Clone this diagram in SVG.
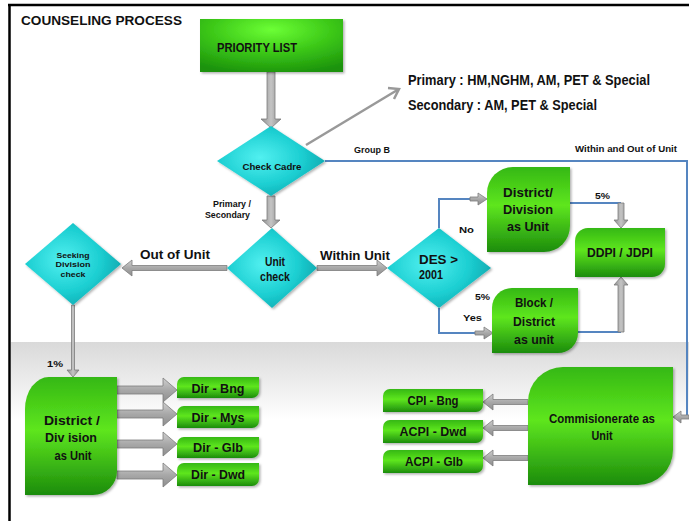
<svg xmlns="http://www.w3.org/2000/svg" width="689" height="521" viewBox="0 0 689 521">
<defs>
<linearGradient id="band" x1="0" y1="342" x2="0" y2="420" gradientUnits="userSpaceOnUse"><stop offset="0" stop-color="#d9d9d9"/><stop offset="1" stop-color="#ffffff"/></linearGradient>
<linearGradient id="grn" x1="0" y1="0" x2="0" y2="1"><stop offset="0" stop-color="#35b812"/><stop offset="0.45" stop-color="#5ee61f"/><stop offset="1" stop-color="#1c8c0c"/></linearGradient>
<radialGradient id="pri" cx="0.5" cy="0.2" r="0.85"><stop offset="0" stop-color="#6cff35"/><stop offset="0.5" stop-color="#3cc818"/><stop offset="1" stop-color="#1b920b"/></radialGradient>
<radialGradient id="cy" cx="0.4" cy="0.45" r="0.7"><stop offset="0" stop-color="#52f0f0"/><stop offset="0.55" stop-color="#1ccfd2"/><stop offset="1" stop-color="#0a9ea6"/></radialGradient>
<linearGradient id="gv" x1="0" y1="0" x2="0" y2="1"><stop offset="0" stop-color="#d0d0d0"/><stop offset="0.5" stop-color="#a8a8a8"/><stop offset="1" stop-color="#8e8e8e"/></linearGradient>
<linearGradient id="gh" x1="0" y1="0" x2="1" y2="0"><stop offset="0" stop-color="#8e8e8e"/><stop offset="0.5" stop-color="#c4c4c4"/><stop offset="1" stop-color="#8e8e8e"/></linearGradient>
<filter id="sh" x="-10%" y="-10%" width="125%" height="125%"><feDropShadow dx="1.5" dy="1.5" stdDeviation="1" flood-color="#000" flood-opacity="0.3"/></filter>
</defs>
<style>
text{font-family:"Liberation Sans",Arial,sans-serif;font-weight:bold;fill:#111}
.box{fill:url(#grn);filter:url(#sh)}
.dia{fill:url(#cy);filter:url(#sh)}
.blue{fill:none;stroke:#5585c0;stroke-width:2}
.ah{fill:url(#gv);stroke:#7c7c7c;stroke-width:0.8}
.av{fill:url(#gh);stroke:#7c7c7c;stroke-width:0.8}
.c{text-anchor:middle}
</style>
<rect x="0" y="0" width="689" height="521" fill="#fff"/>
<rect x="11" y="342" width="678" height="179" fill="url(#band)"/>
<path d="M8,5 H689 M9.5,5 V521" stroke="#000" stroke-width="2.5" fill="none"/>
<text x="21" y="25" font-size="13.5" textLength="161" lengthAdjust="spacingAndGlyphs">COUNSELING PROCESS</text>

<g id="connectors">
<polygon class="av" points="267,72 275,72 275,119 281,119 271,128 261,119 267,119"/>
<polygon class="av" points="267,196 275,196 275,220 280,220 271,228 262,220 267,220"/>
<path d="M306,145 L399,89 M388,88 L399,89 L394,99" fill="none" stroke="#999" stroke-width="2.5"/>
<polygon class="ah" points="227,265.5 227,270.5 132,270.5 132,276 122,268 132,260 132,265.5"/>
<polygon class="ah" points="317,265.5 317,270.5 377,270.5 377,276 387,268 377,260 377,265.5"/>
<polygon class="av" points="71.5,305 74.5,305 74.5,370 79,370 73,377 67,370 71.5,370"/>
<path class="blue" d="M325,161 H687 V417"/>
<polygon class="ah" points="689,415 681,415 681,411 673,417 681,423 681,419 689,419"/>
<path class="blue" d="M439,228 V199 H472"/>
<polygon class="ah" points="470,197 478,197 478,193 487,199 478,205 478,201 470,201"/>
<path class="blue" d="M439,308 V333 H477"/>
<polygon class="ah" points="475,331 484,331 484,327 493,333 484,339 484,335 475,335"/>
<path class="blue" d="M570,203 H621"/>
<polygon class="av" points="618,203 624,203 624,220 628,220 621,228 614,220 618,220"/>
<path class="blue" d="M578,332 H621"/>
<polygon class="av" points="618,332 624,332 624,285 628,285 621,277 614,285 618,285"/>
<polygon class="ah" points="117,386 163,386 163,378 177,390 163,402 163,394 117,394"/>
<polygon class="ah" points="117,410 163,410 163,402 177,414 163,426 163,418 117,418"/>
<polygon class="ah" points="117,440 163,440 163,432 177,444 163,456 163,448 117,448"/>
<polygon class="ah" points="117,471 163,471 163,463 177,475 163,487 163,479 117,479"/>
<polygon class="ah" points="528,399.5 493,399.5 493,394 483,402 493,410 493,404.5 528,404.5"/>
<polygon class="ah" points="528,425.5 493,425.5 493,420 483,428 493,436 493,430.5 528,430.5"/>
<polygon class="ah" points="528,455.5 493,455.5 493,450 483,458 493,466 493,460.5 528,460.5"/>
</g>

<g id="labels">
<text x="408" y="85" font-size="14" textLength="242" lengthAdjust="spacingAndGlyphs">Primary : HM,NGHM, AM, PET &amp; Special</text>
<text x="408" y="110" font-size="14" textLength="189" lengthAdjust="spacingAndGlyphs">Secondary : AM, PET &amp; Special</text>
<text x="354" y="153" font-size="9" textLength="36" lengthAdjust="spacingAndGlyphs">Group B</text>
<text x="575" y="152" font-size="9" textLength="102" lengthAdjust="spacingAndGlyphs">Within and Out of Unit</text>
<text x="213" y="207" font-size="8.5" textLength="38" lengthAdjust="spacingAndGlyphs">Primary /</text>
<text x="205" y="218" font-size="8.5" textLength="45" lengthAdjust="spacingAndGlyphs">Secondary</text>
<text x="140" y="259" font-size="13" textLength="70" lengthAdjust="spacingAndGlyphs">Out of Unit</text>
<text x="320" y="260" font-size="13" textLength="70" lengthAdjust="spacingAndGlyphs">Within Unit</text>
<text x="459" y="233" font-size="9.5" textLength="15" lengthAdjust="spacingAndGlyphs">No</text>
<text x="463" y="321" font-size="9.5" textLength="19" lengthAdjust="spacingAndGlyphs">Yes</text>
<text x="595" y="199" font-size="9" textLength="15" lengthAdjust="spacingAndGlyphs">5%</text>
<text x="475" y="300" font-size="9" textLength="15" lengthAdjust="spacingAndGlyphs">5%</text>
<text x="47" y="367" font-size="9" textLength="16" lengthAdjust="spacingAndGlyphs">1%</text>
</g>

<g id="priority-list">
<rect x="200" y="19" width="143" height="53" fill="url(#pri)" filter="url(#sh)"/>
<text x="217" y="52" font-size="12.5" textLength="80" lengthAdjust="spacingAndGlyphs" fill="#1a1a1a">PRIORITY LIST</text>
</g>

<g id="check-cadre">
<polygon class="dia" points="271,126 325,161 271,196 217,161"/>
<text class="c" x="272" y="170" font-size="9.5" textLength="59" lengthAdjust="spacingAndGlyphs">Check Cadre</text>
</g>

<g id="unit-check">
<polygon class="dia" points="272,228 317,268 272,308 227,268"/>
<text class="c" x="275" y="266" font-size="12.5" textLength="20" lengthAdjust="spacingAndGlyphs">Unit</text>
<text class="c" x="275" y="281" font-size="12.5" textLength="30" lengthAdjust="spacingAndGlyphs">check</text>
</g>

<g id="seeking-division-check">
<polygon class="dia" points="73,223 121,264 73,305 25,264"/>
<text class="c" x="73" y="258" font-size="7.5" textLength="33" lengthAdjust="spacingAndGlyphs">Seeking</text>
<text class="c" x="73" y="267" font-size="7.5" textLength="35" lengthAdjust="spacingAndGlyphs">Division</text>
<text class="c" x="73" y="277" font-size="7.5" textLength="25" lengthAdjust="spacingAndGlyphs">check</text>
</g>

<g id="des-2001">
<polygon class="dia" points="439,228 491,268 439,308 387,268"/>
<text x="419" y="264" font-size="12" textLength="39" lengthAdjust="spacingAndGlyphs">DES  &gt;</text>
<text x="419" y="279" font-size="12" textLength="24" lengthAdjust="spacingAndGlyphs">2001</text>
</g>

<g id="district-division-unit-upper">
<path class="box" d="M513,167 H570 V226 A26,26 0 0 1 544,252 H487 V193 A26,26 0 0 1 513,167 Z"/>
<text class="c" x="528" y="197" font-size="13" textLength="50" lengthAdjust="spacingAndGlyphs">District/</text>
<text class="c" x="528" y="214" font-size="13" textLength="50" lengthAdjust="spacingAndGlyphs">Division</text>
<text class="c" x="528" y="231" font-size="13" textLength="42" lengthAdjust="spacingAndGlyphs">as Unit</text>
</g>

<g id="block-district-unit">
<path class="box" d="M512,288 H578 V333 A20,20 0 0 1 558,353 H492 V308 A20,20 0 0 1 512,288 Z"/>
<text class="c" x="534" y="307" font-size="12.5" textLength="38" lengthAdjust="spacingAndGlyphs">Block /</text>
<text class="c" x="534" y="326" font-size="12.5" textLength="42" lengthAdjust="spacingAndGlyphs">District</text>
<text class="c" x="534" y="344" font-size="12.5" textLength="40" lengthAdjust="spacingAndGlyphs">as unit</text>
</g>

<g id="ddpi-jdpi">
<path class="box" d="M588,228 H665 V264 A13,13 0 0 1 652,277 H575 V241 A13,13 0 0 1 588,228 Z"/>
<text class="c" x="620" y="257" font-size="12" textLength="66" lengthAdjust="spacingAndGlyphs">DDPI / JDPI</text>
</g>

<g id="district-division-unit-lower">
<path class="box" d="M49,377 H117 V471 A24,24 0 0 1 93,495 H25 V409 A24,32 0 0 1 49,377 Z"/>
<text class="c" x="72" y="425" font-size="13" textLength="56" lengthAdjust="spacingAndGlyphs">District /</text>
<text class="c" x="71" y="442" font-size="13" textLength="52" lengthAdjust="spacingAndGlyphs">Div ision</text>
<text class="c" x="73" y="460" font-size="13" textLength="37" lengthAdjust="spacingAndGlyphs">as Unit</text>
</g>

<g id="dir-bng">
<path class="box" d="M184,377 H259 V391 A7,7 0 0 1 252,398 H177 V384 A7,7 0 0 1 184,377 Z"/>
<text class="c" x="218" y="393" font-size="12" textLength="53" lengthAdjust="spacingAndGlyphs">Dir - Bng</text>
</g>
<g id="dir-mys">
<path class="box" d="M184,406 H259 V421 A7,7 0 0 1 252,428 H177 V413 A7,7 0 0 1 184,406 Z"/>
<text class="c" x="218" y="422" font-size="12" textLength="53" lengthAdjust="spacingAndGlyphs">Dir - Mys</text>
</g>
<g id="dir-glb">
<path class="box" d="M184,437 H259 V451 A7,7 0 0 1 252,458 H177 V444 A7,7 0 0 1 184,437 Z"/>
<text class="c" x="218" y="452" font-size="12" textLength="50" lengthAdjust="spacingAndGlyphs">Dir - Glb</text>
</g>
<g id="dir-dwd">
<path class="box" d="M184,463 H259 V479 A7,7 0 0 1 252,486 H177 V470 A7,7 0 0 1 184,463 Z"/>
<text class="c" x="218" y="479" font-size="12" textLength="54" lengthAdjust="spacingAndGlyphs">Dir - Dwd</text>
</g>

<g id="commisionerate">
<path class="box" d="M563,367 H673 V450 A35,35 0 0 1 638,485 H528 V402 A35,35 0 0 1 563,367 Z"/>
<text class="c" x="602" y="423" font-size="12.5" textLength="106" lengthAdjust="spacingAndGlyphs">Commisionerate  as</text>
<text class="c" x="602" y="440" font-size="12.5" textLength="21" lengthAdjust="spacingAndGlyphs">Unit</text>
</g>

<g id="cpi-bng">
<path class="box" d="M390,389 H483 V405 A7,7 0 0 1 476,412 H383 V396 A7,7 0 0 1 390,389 Z"/>
<text class="c" x="433" y="405" font-size="12" textLength="51" lengthAdjust="spacingAndGlyphs">CPI - Bng</text>
</g>
<g id="acpi-dwd">
<path class="box" d="M390,420 H483 V436 A7,7 0 0 1 476,443 H383 V427 A7,7 0 0 1 390,420 Z"/>
<text class="c" x="433" y="436" font-size="12" textLength="67" lengthAdjust="spacingAndGlyphs">ACPI - Dwd</text>
</g>
<g id="acpi-glb">
<path class="box" d="M390,450 H483 V466 A7,7 0 0 1 476,473 H383 V457 A7,7 0 0 1 390,450 Z"/>
<text class="c" x="434" y="466" font-size="12" textLength="58" lengthAdjust="spacingAndGlyphs">ACPI - Glb</text>
</g>
</svg>
